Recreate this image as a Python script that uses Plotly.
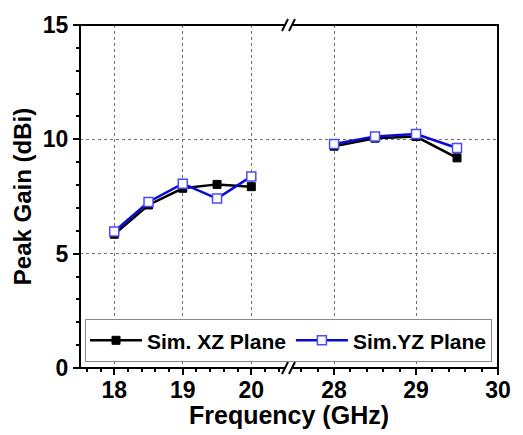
import plotly.graph_objects as go

# Data
freq_low = [18, 18.5, 19, 19.5, 20]
xz_low = [5.85, 7.13, 7.86, 8.03, 7.93]
yz_low = [5.97, 7.26, 8.06, 7.41, 8.38]
freq_high = [28, 28.5, 29, 29.5]
xz_high = [9.70, 10.05, 10.12, 9.19]
yz_high = [9.80, 10.12, 10.23, 9.62]
series_names = ["Sim. XZ Plane", "Sim.YZ Plane"]

FONT = "Liberation Sans, Arial, sans-serif"
BLACK = "#000000"
BLUE = "#0a0ad0"
BLUE_EDGE = "#4a4aff"

fig = go.Figure()

def add_series(x, y, xa, name, color, marker, show):
    fig.add_trace(go.Scatter(
        x=x, y=y, xaxis=xa, yaxis="y", mode="lines+markers", name=name,
        legendgroup=name, showlegend=show,
        line=dict(color=color, width=2.5), marker=marker))

m_black = dict(symbol="square", size=8, color=BLACK, line=dict(color=BLACK, width=1))
m_blue = dict(symbol="square", size=9, color="white", line=dict(color=BLUE_EDGE, width=1.5))

add_series(freq_low, xz_low, "x", series_names[0], BLACK, m_black, True)
add_series(freq_high, xz_high, "x2", series_names[0], BLACK, m_black, False)
add_series(freq_low, yz_low, "x", series_names[1], BLUE, m_blue, True)
add_series(freq_high, yz_high, "x2", series_names[1], BLUE, m_blue, False)

tickfont = dict(family=FONT, size=23, color="black", weight="bold")
xcommon = dict(
    tickmode="linear", dtick=1, ticks="outside", ticklen=6, tickwidth=2,
    tickcolor="black", showgrid=True, gridcolor="#707070", griddash="dot",
    gridwidth=1, zeroline=False, showline=False, tickfont=tickfont,
    ticklabelstandoff=-5,
    minor=dict(dtick=0.2, ticks="outside", ticklen=3, tickwidth=1.5,
               tickcolor="black", showgrid=False),
)

fig.update_layout(
    width=523, height=435,
    margin=dict(l=80, r=16, t=23, b=67),
    plot_bgcolor="white", paper_bgcolor="white",
    xaxis=dict(domain=[0, 0.5], range=[17.5, 20.55], tick0=18, anchor="y", **xcommon),
    xaxis2=dict(domain=[0.5, 1], range=[27.45, 30], tick0=28, anchor="y", **xcommon),
    yaxis=dict(range=[0, 15], tickmode="linear", dtick=5, ticks="outside",
               ticklen=6, tickwidth=2, tickcolor="black", showgrid=True,
               gridcolor="#707070", griddash="dot", gridwidth=1,
               zeroline=False, showline=False, tickfont=tickfont,
               title=dict(text="Peak Gain (dBi)", font=dict(family=FONT, size=24, color="black", weight="bold"), standoff=4),
               minor=dict(dtick=1, ticks="outside", ticklen=3, tickwidth=1.5,
                          tickcolor="black", showgrid=False)),
    legend=dict(x=0.012, y=0.017, xanchor="left", yanchor="bottom",
                orientation="h", bgcolor="white", bordercolor="#8a8a8a",
                borderwidth=1, font=dict(family=FONT, size=21, color="black", weight="bold"),
                itemwidth=52, tracegroupgap=0),
    showlegend=True,
)

fig.add_annotation(text="Frequency (GHz)", xref="paper", yref="paper", x=0.5, y=0,
                   yshift=-31, xanchor="center", yanchor="top", showarrow=False,
                   font=dict(family=FONT, size=25, color="black", weight="bold"))

# Frame
fig.add_shape(type="rect", xref="paper", yref="paper", x0=0, x1=1, y0=0, y1=1,
              line=dict(color="black", width=2), layer="above")

# Axis break marks
for yp in (0, 1):
    fig.add_shape(type="line", xref="paper", yref="paper", xsizemode="pixel",
                  ysizemode="pixel", xanchor=0.5, yanchor=yp, x0=-4, x1=4, y0=0, y1=0,
                  line=dict(color="white", width=4), layer="above")
    for dx in (-4, 3):
        fig.add_shape(type="line", xref="paper", yref="paper", xsizemode="pixel",
                      ysizemode="pixel", xanchor=0.5, yanchor=yp,
                      x0=dx - 3, x1=dx + 3, y0=-6, y1=6,
                      line=dict(color="black", width=2), layer="above")

fig.write_html("out.html")
